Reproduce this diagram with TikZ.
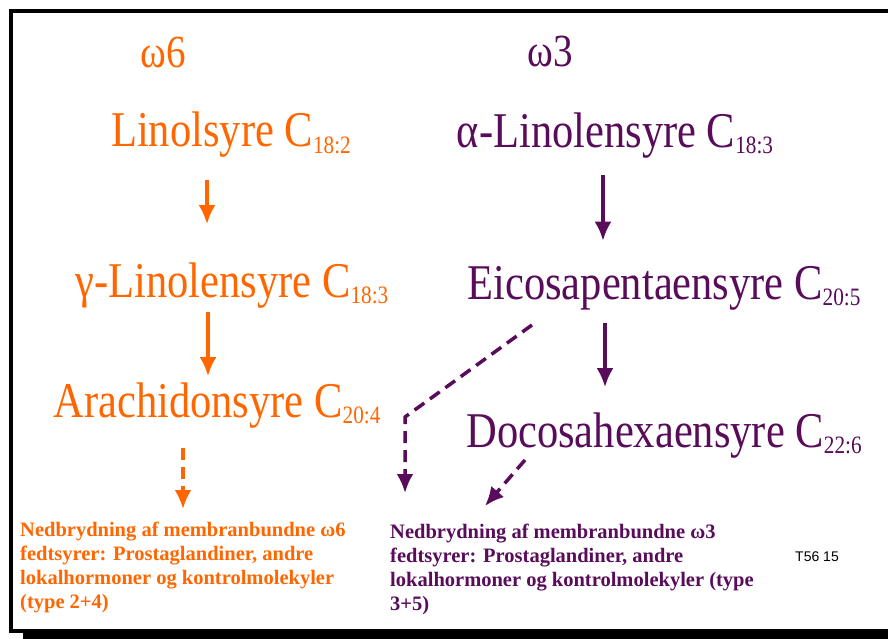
\documentclass[tikz,border=0pt]{standalone}
\usepackage{fontspec}
\setmainfont{Liberation Serif}
\newfontfamily\acidfont[FakeStretch=0.85]{Liberation Serif}
\newfontfamily\tagfont{Liberation Sans}
\usepackage{xcolor}
\usetikzlibrary{arrows.meta,positioning,calc}
\definecolor{omsix}{RGB}{255,102,0}
\definecolor{omthree}{RGB}{88,12,90}
\newcommand{\csub}[1]{\raisebox{-6pt}{\fontsize{25}{25}\selectfont #1}}

\begin{document}
\begin{tikzpicture}[x=1pt, y=-1pt,
    acid/.style={inner sep=0pt, anchor=base, font=\acidfont\fontsize{50}{50}\selectfont},
    head/.style={inner sep=0pt, anchor=base, font=\acidfont\fontsize{46}{46}\selectfont},
    note/.style={inner sep=0pt, anchor=north west, align=left, font=\fontsize{20.5}{24}\selectfont\bfseries},
    line/.style={draw, -{Latex[length=19pt,width=17pt]}, line width=3.3pt},
    dline/.style={line, line width=3.5pt, dash pattern=on 12pt off 7pt}]

    % Frame with shadow
    \useasboundingbox (0,0) rectangle (888,639);
    \clip (0,0) rectangle (888,639);
    \fill (23,23) rectangle (900,650);
    \filldraw[fill=white, line width=3.5pt] (11,11) rectangle (895,631);

    % Column 1: omega-6
    \node[head, text=omsix] (w6) at (163,68) {ω6};
    \node[acid, text=omsix] (lin) at (231,147) {Linolsyre C\csub{18:2}};
    \node[acid, text=omsix] (gla) at (232,297) {γ-Linolensyre C\csub{18:3}};
    \node[acid, text=omsix] (ara) at (217,417) {Arachidonsyre C\csub{20:4}};
    \node[note, text=omsix] (note6) at (20,522) {Nedbrydning af membranbundne ω6\\fedtsyrer: Prostaglandiner, andre\\lokalhormoner og kontrolmolekyler\\(type 2+4)};

    % Column 2: omega-3
    \node[head, text=omthree] (w3) at (550,67) {ω3};
    \node[acid, text=omthree] (ala) at (615,148) {α-Linolensyre C\csub{18:3}};
    \node[acid, text=omthree] (epa) at (664,299) {Eicosapentaensyre C\csub{20:5}};
    \node[acid, text=omthree] (dha) at (664,447) {Docosahexaensyre C\csub{22:6}};
    \node[note, text=omthree] (note3) at (390,524) {Nedbrydning af membranbundne ω3\\fedtsyrer: Prostaglandiner, andre\\lokalhormoner og kontrolmolekyler (type\\3+5)};

    \node[inner sep=0pt, font=\tagfont\fontsize{14}{14}\selectfont] (tag) at (817,557) {T56 15};

    % Connectors
    \draw[line, omsix] ([xshift=-24pt, yshift=-22pt]lin.south) -- ([xshift=-25pt, yshift=38pt]gla.north);
    \draw[line, omsix] ([xshift=-24pt, yshift=-4pt]gla.south) -- ([xshift=-9pt, yshift=6pt]ara.north);
    \draw[dline, omsix] ([xshift=-34pt, yshift=-20pt]ara.south) -- ([xshift=163pt, yshift=13pt]note6.north west);

    \draw[line, omthree] ([xshift=-12pt, yshift=-16pt]ala.south) -- ([xshift=-61pt, yshift=25pt]epa.north);
    \draw[line, omthree] ([xshift=-59pt, yshift=-13pt]epa.south) -- ([xshift=-59pt, yshift=25pt]dha.north);
    \coordinate (bend) at (405,417);
    \draw[dline, omthree] ([xshift=-132pt, yshift=-15pt]epa.south) -- (bend) -- ([xshift=15pt, yshift=31pt]note3.north west);
    \draw[dline, omthree] ([xshift=-139pt, yshift=-2pt]dha.south) -- ([xshift=95pt, yshift=18pt]note3.north west);
\end{tikzpicture}
\end{document}
